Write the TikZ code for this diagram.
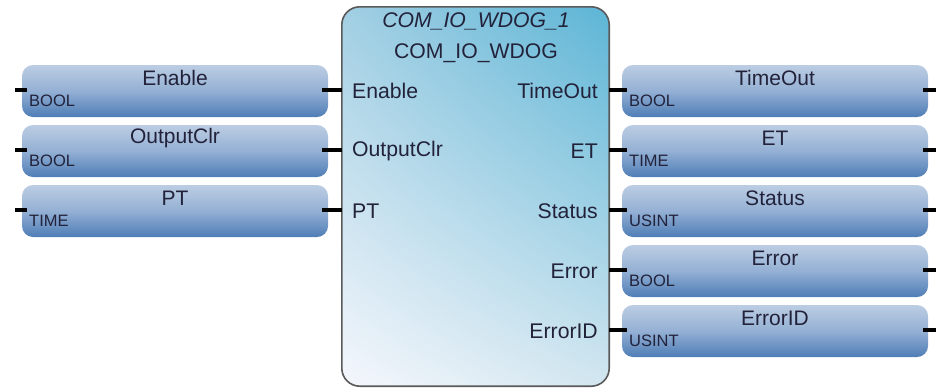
\documentclass[tikz,border=0pt]{standalone}
\usepackage{fontspec}
\setmainfont{Liberation Sans}
\usetikzlibrary{shadings}
\definecolor{txt}{HTML}{22223A}
\definecolor{vtop}{HTML}{BCCDE3}
\definecolor{vmid}{HTML}{94B0D4}
\definecolor{vbot}{HTML}{4E7DB6}
\definecolor{blkborder}{HTML}{5A5A5A}
\definecolor{bul}{HTML}{A2CFE3}
\definecolor{bur}{HTML}{5CB5D6}
\definecolor{bll}{HTML}{F5F7FC}
\definecolor{blr}{HTML}{D2E6F0}
\begin{document}
\begin{tikzpicture}[x=1pt,y=-1pt,
  varbox/.style={rectangle, rounded corners=11pt, minimum width=306pt, minimum height=52pt,
    top color=vtop, bottom color=vbot, middle color=vmid, inner sep=0pt},
  vname/.style={font=\fontsize{21}{23}\selectfont, text=txt, inner sep=0pt},
  vtype/.style={font=\fontsize{16.5}{18}\selectfont, text=txt, inner sep=0pt, anchor=west},
  pinl/.style={font=\fontsize{21.2}{23}\selectfont, text=txt, inner sep=0pt, anchor=west},
  pinr/.style={font=\fontsize{21.2}{23}\selectfont, text=txt, inner sep=0pt, anchor=east},
  stub/.style={line width=3.8pt, black}]
\useasboundingbox (0,0) rectangle (941,389);
% main block
\node[minimum width=267pt, minimum height=379pt, inner sep=0pt] (blk) at (475.5,196.5) {};
\shade[rounded corners=18pt, upper left=bul, upper right=bur, lower left=bll, lower right=blr]
  (blk.north west) rectangle (blk.south east);
\draw[blkborder, line width=1.6pt, rounded corners=18pt] (blk.north west) rectangle (blk.south east);
\node[font=\fontsize{21.2}{23}\selectfont\itshape, text=txt, inner sep=0pt] (inst) at (476,21) {COM\_IO\_WDOG\_1};
\node[font=\fontsize{21.2}{23}\selectfont, text=txt, inner sep=0pt] (type) at (476,53) {COM\_IO\_WDOG};
% input pins
\node[pinl] (iEn) at (352,91) {Enable};
\node[pinl] (iOc) at (352,151) {OutputClr};
\node[pinl] (iPt) at (352,211) {PT};
% output pins
\node[pinr] (oTo) at (598,91) {TimeOut};
\node[pinr] (oEt) at (598,151) {ET};
\node[pinr] (oSt) at (598,211) {Status};
\node[pinr] (oEr) at (598,271) {Error};
\node[pinr] (oId) at (598,331) {ErrorID};
% left variable boxes
\foreach \nm/\lab/\typ/\y in {lEn/Enable/BOOL/90, lOc/OutputClr/BOOL/150, lPt/PT/TIME/210}{
  \node[varbox] (\nm) at (175,\y+1) {};
  \node[vname] (\nm n) at (175,\y-12) {\lab};
  \node[vtype] (\nm t) at (29,\y+11) {\typ};
  \draw[stub] ([xshift=-7pt]\nm.west |- 0,\y) -- ([xshift=5pt]\nm.west |- 0,\y);
  \draw[stub] ([xshift=-6pt]\nm.east |- 0,\y) -- (blk.west |- 0,\y);
}
% right variable boxes
\foreach \nm/\lab/\typ/\y in {rTo/TimeOut/BOOL/90, rEt/ET/TIME/150, rSt/Status/USINT/210, rEr/Error/BOOL/270, rId/ErrorID/USINT/330}{
  \node[varbox] (\nm) at (775,\y+1) {};
  \node[vname] (\nm n) at (775,\y-12) {\lab};
  \node[vtype] (\nm t) at (629,\y+11) {\typ};
  \draw[stub] (blk.east |- 0,\y) -- ([xshift=5pt]\nm.west |- 0,\y);
  \draw[stub] ([xshift=-5pt]\nm.east |- 0,\y) -- ([xshift=8pt]\nm.east |- 0,\y);
}
\end{tikzpicture}
\end{document}
